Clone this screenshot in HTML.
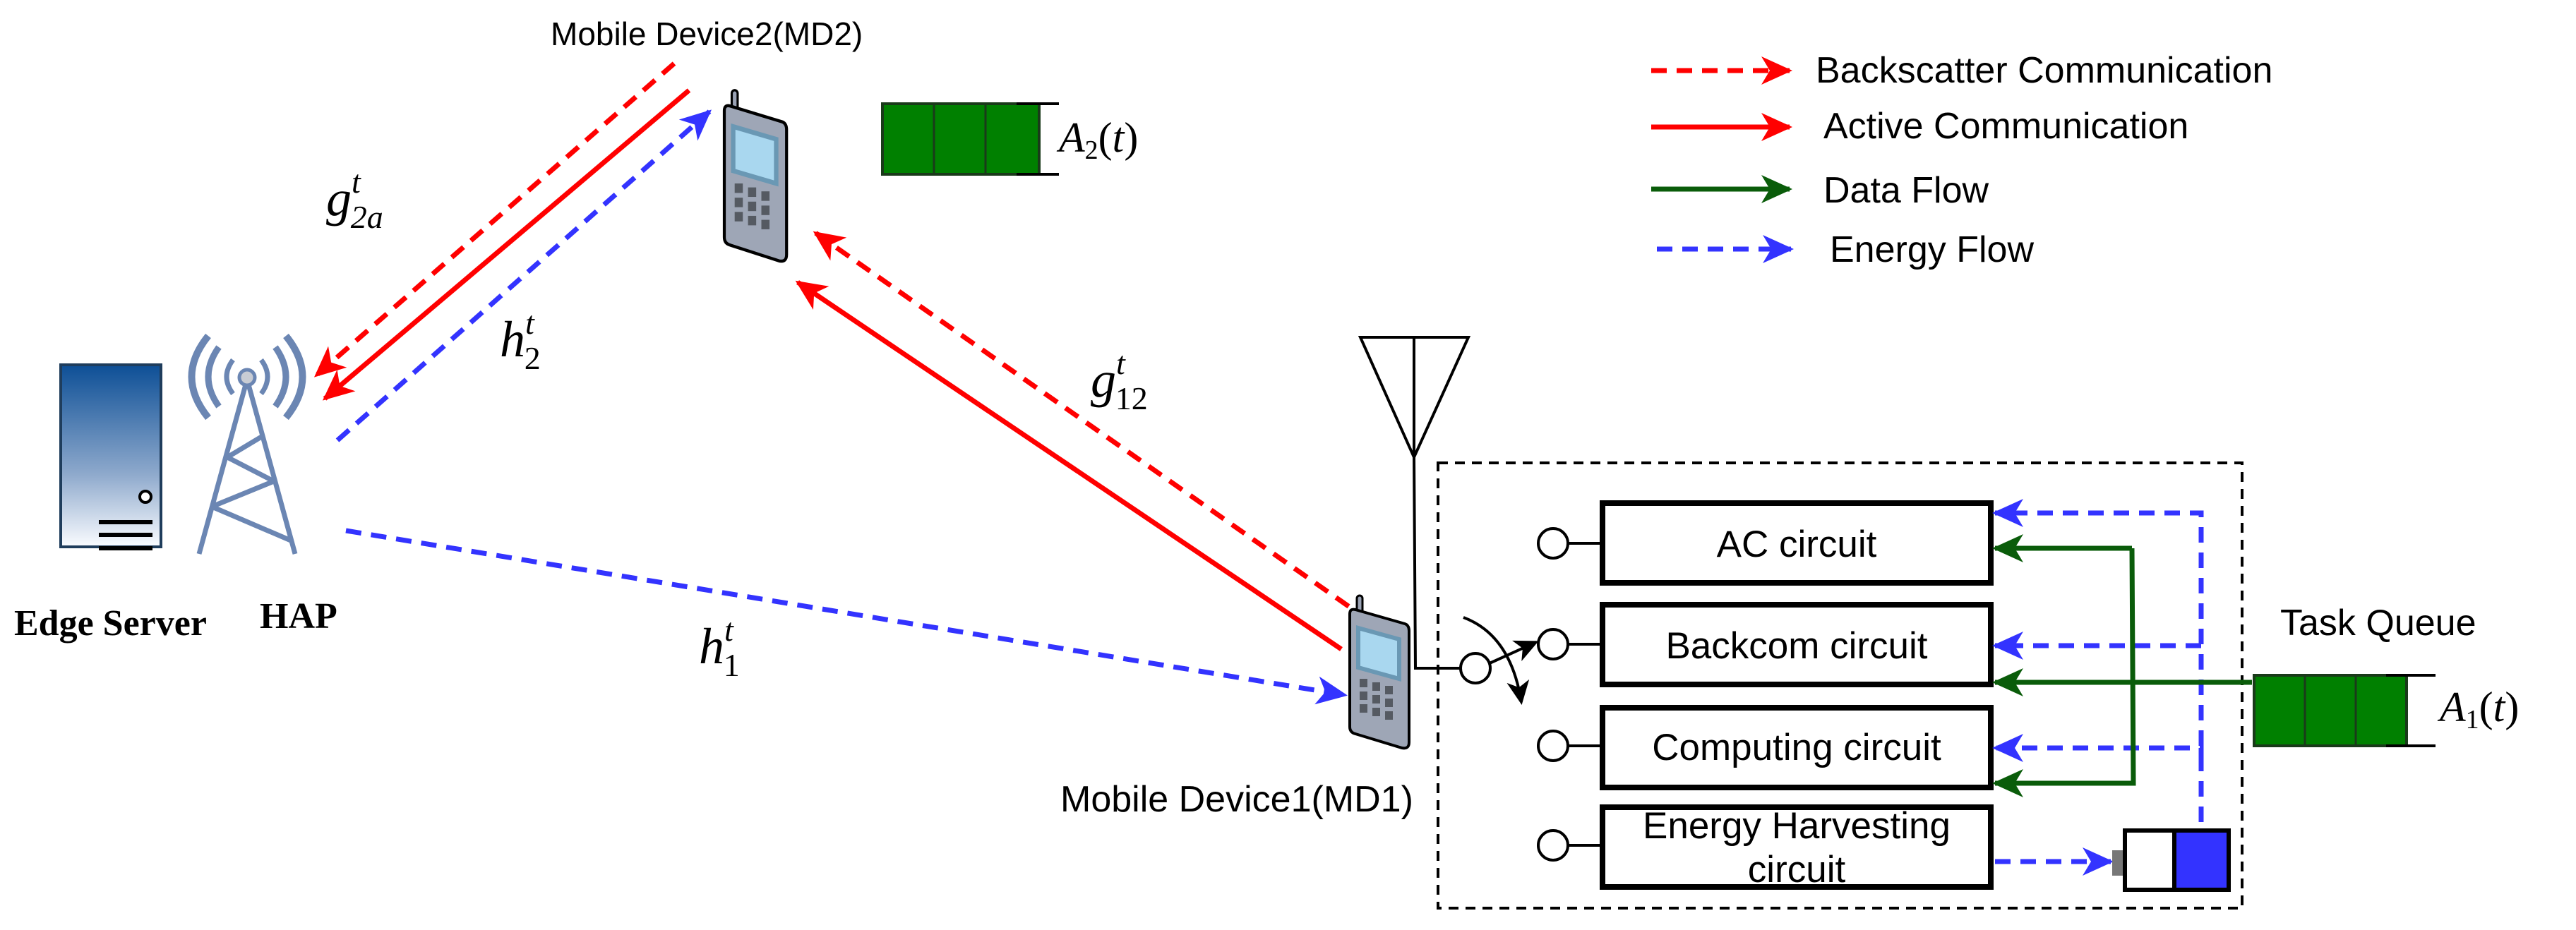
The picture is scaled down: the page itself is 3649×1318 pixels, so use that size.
<!DOCTYPE html>
<html><head><meta charset="utf-8"><style>
html,body{margin:0;padding:0;background:#fff;}
svg{display:block;}
text{font-family:"Liberation Sans",sans-serif;}
text.m{font-family:"Liberation Serif",serif;font-style:italic;}
</style></head><body>
<svg width="3649" height="1318" viewBox="0 0 3649 1318" xmlns="http://www.w3.org/2000/svg">
<defs>
<marker id="ar" markerUnits="userSpaceOnUse" markerWidth="44" markerHeight="44" refX="40" refY="22" orient="auto"><path d="M0,2 L44,22 L0,42 L12,22 z" fill="#f00"/></marker>
<marker id="ab" markerUnits="userSpaceOnUse" markerWidth="44" markerHeight="44" refX="40" refY="22" orient="auto"><path d="M0,2 L44,22 L0,42 L12,22 z" fill="#3333ff"/></marker>
<marker id="ag" markerUnits="userSpaceOnUse" markerWidth="44" markerHeight="44" refX="40" refY="22" orient="auto"><path d="M0,2 L44,22 L0,42 L12,22 z" fill="#0a5c0a"/></marker>
<marker id="ak" markerUnits="userSpaceOnUse" markerWidth="34" markerHeight="34" refX="30" refY="17" orient="auto"><path d="M0,1 L34,17 L0,33 L9,17 z" fill="#000"/></marker>
<linearGradient id="sg" x1="0" y1="0" x2="0" y2="1"><stop offset="0" stop-color="#0d4f96"/><stop offset="0.6" stop-color="#8ea9cc"/><stop offset="1" stop-color="#fafcff"/></linearGradient>
<g id="phone">
<rect x="10" y="-18" width="8" height="30" rx="4" fill="#9aa2b4" stroke="#000" stroke-width="3"/>
<path d="M0,8 Q0,0 8,2 L78,22 Q84,24 84,32 L84,190 Q84,200 74,198 L8,178 Q0,176 0,168 Z" fill="#9ea6b6" stroke="#000" stroke-width="4"/>
<path d="M12,28 L70,44 L70,100 L12,84 Z" fill="#a9d7ef" stroke="#6a98b4" stroke-width="6"/>
<g fill="#555a62"><rect x="14" y="100" width="11" height="12"/><rect x="32" y="105" width="11" height="12"/><rect x="50" y="110" width="11" height="12"/><rect x="14" y="118" width="11" height="12"/><rect x="32" y="123" width="11" height="12"/><rect x="50" y="128" width="11" height="12"/><rect x="14" y="136" width="11" height="12"/><rect x="32" y="141" width="11" height="12"/><rect x="50" y="146" width="11" height="12"/></g>
</g>
</defs>

<g stroke-width="7" fill="none">
<line x1="2339" y1="100" x2="2535" y2="100" stroke="#f00" stroke-dasharray="22 14" marker-end="url(#ar)"/>
<line x1="2339" y1="180" x2="2535" y2="180" stroke="#f00" marker-end="url(#ar)"/>
<line x1="2339" y1="268" x2="2535" y2="268" stroke="#0a5c0a" marker-end="url(#ag)"/>
<line x1="2347" y1="353" x2="2537" y2="353" stroke="#3333ff" stroke-dasharray="22 14" marker-end="url(#ab)"/>
</g>
<g font-size="52" fill="#000">
<text x="2572" y="117">Backscatter Communication</text>
<text x="2583" y="196">Active Communication</text>
<text x="2583" y="287">Data Flow</text>
<text x="2592" y="371">Energy Flow</text>
</g>

<text x="780" y="64" font-size="46">Mobile Device2(MD2)</text>
<use href="#phone" transform="translate(1026,148) scale(1.05,1.12)"/>
<rect x="1250" y="147" width="222" height="100" fill="#008000" stroke="#1a3a1a" stroke-width="4"/>
<line x1="1323" y1="147" x2="1323" y2="247" stroke="#1a3a1a" stroke-width="3"/>
<line x1="1396" y1="147" x2="1396" y2="247" stroke="#1a3a1a" stroke-width="3"/>
<line x1="1440" y1="147" x2="1500" y2="147" stroke="#000" stroke-width="4"/>
<line x1="1440" y1="247" x2="1500" y2="247" stroke="#000" stroke-width="4"/>
<text x="1500" y="215" font-size="60" class="m">A<tspan font-size="38" dy="10" font-style="normal">2</tspan><tspan dy="-10" font-style="normal">(</tspan>t<tspan font-style="normal">)</tspan></text>

<rect x="86" y="517" width="142" height="258" fill="url(#sg)" stroke="#1f3d5c" stroke-width="4"/>
<circle cx="206" cy="704" r="8" fill="#fff" stroke="#000" stroke-width="4"/>
<g stroke="#000" stroke-width="6"><line x1="140" y1="740" x2="216" y2="740"/><line x1="140" y1="758" x2="216" y2="758"/><line x1="140" y1="777" x2="216" y2="777"/></g>
<text x="20" y="900" font-size="52" font-weight="bold" style="font-family:'Liberation Serif',serif">Edge Server</text>
<g transform="translate(0,-60)">
<g stroke="#6b86b3" stroke-width="7" fill="none">
<line x1="348" y1="605" x2="282" y2="845"/><line x1="352" y1="605" x2="418" y2="845"/>
<line x1="372" y1="678" x2="322" y2="708"/><line x1="322" y1="708" x2="388" y2="742"/><line x1="388" y1="742" x2="300" y2="778"/><line x1="300" y1="778" x2="412" y2="826"/>
<path d="M330,570 Q312,594 330,618"/><path d="M370,570 Q388,594 370,618"/>
<path d="M310,552 Q280,594 310,636" stroke-width="9"/><path d="M390,552 Q420,594 390,636" stroke-width="9"/>
<path d="M295,536 Q248,594 295,652" stroke-width="10"/><path d="M405,536 Q452,594 405,652" stroke-width="10"/>
</g>
<circle cx="350" cy="595" r="11" fill="#c8ccd4" stroke="#6b86b3" stroke-width="5"/>
</g>
<text x="368" y="890" font-size="52" font-weight="bold" style="font-family:'Liberation Serif',serif">HAP</text>

<g stroke-width="7" fill="none">
<line x1="955" y1="90" x2="448" y2="532" stroke="#f00" stroke-dasharray="22 14" marker-end="url(#ar)"/>
<line x1="976" y1="128" x2="460" y2="565" stroke="#f00" marker-end="url(#ar)"/>
<line x1="478" y1="624" x2="1005" y2="158" stroke="#3333ff" stroke-dasharray="22 14" marker-end="url(#ab)"/>
<line x1="1940" y1="880" x2="1155" y2="330" stroke="#f00" stroke-dasharray="22 14" marker-end="url(#ar)"/>
<line x1="1900" y1="920" x2="1130" y2="400" stroke="#f00" marker-end="url(#ar)"/>
<line x1="490" y1="752" x2="1905" y2="985" stroke="#3333ff" stroke-dasharray="22 14" marker-end="url(#ab)"/>
</g>
<g font-size="72">
<text class="m" x="462" y="305">g<tspan font-size="46" dy="-32">t</tspan><tspan font-size="46" dx="-14" dy="50">2a</tspan></text>
<text class="m" x="708" y="505">h<tspan font-size="46" dy="-32">t</tspan><tspan font-size="46" font-style="normal" dx="-14" dy="50">2</tspan></text>
<text class="m" x="1545" y="562">g<tspan font-size="46" dy="-32">t</tspan><tspan font-size="46" font-style="normal" dx="-14" dy="50">12</tspan></text>
<text class="m" x="990" y="940">h<tspan font-size="46" dy="-32">t</tspan><tspan font-size="46" font-style="normal" dx="-14" dy="50">1</tspan></text>
</g>

<use href="#phone" x="1912" y="862"/>
<text x="1502" y="1150" font-size="52">Mobile Device1(MD1)</text>
<g stroke="#000" stroke-width="4" fill="none">
<path d="M1927,478 L2080,478 L2003,648 Z"/><line x1="2003" y1="478" x2="2003" y2="648"/>
<polyline points="2003,648 2005,947 2069,947"/>
<line x1="2110" y1="940" x2="2176" y2="910" marker-end="url(#ak)"/>
<path d="M2073,875 Q2140,900 2155,995" marker-end="url(#ak)"/>
</g>
<circle cx="2090" cy="947" r="21" fill="#fff" stroke="#000" stroke-width="4"/>
<rect x="2037" y="656" width="1139" height="631" fill="none" stroke="#000" stroke-width="4" stroke-dasharray="14 10"/>
<g stroke="#000" stroke-width="4" fill="#fff">
<line x1="2221" y1="770" x2="2268" y2="770"/><circle cx="2200" cy="770" r="21"/>
<line x1="2221" y1="913" x2="2268" y2="913"/><circle cx="2200" cy="913" r="21"/>
<line x1="2221" y1="1057" x2="2268" y2="1057"/><circle cx="2200" cy="1057" r="21"/>
<line x1="2221" y1="1198" x2="2268" y2="1198"/><circle cx="2200" cy="1198" r="21"/>
</g>
<g stroke="#000" stroke-width="8" fill="#fff">
<rect x="2270" y="713" width="550" height="113"/>
<rect x="2270" y="857" width="550" height="113"/>
<rect x="2270" y="1003" width="550" height="113"/>
<rect x="2270" y="1144" width="550" height="113"/>
</g>
<g font-size="53" text-anchor="middle">
<text x="2545" y="789">AC circuit</text>
<text x="2545" y="933">Backcom circuit</text>
<text x="2545" y="1077">Computing circuit</text>
<text x="2545" y="1188">Energy Harvesting</text>
<text x="2545" y="1250">circuit</text>
</g>
<g stroke="#3333ff" stroke-width="7" fill="none" stroke-dasharray="22 14">
<polyline points="3118,1165 3118,727 2826,727" marker-end="url(#ab)"/>
<line x1="3118" y1="915" x2="2826" y2="915" marker-end="url(#ab)"/>
<polyline points="3118,1080 3118,1060 2826,1060" marker-end="url(#ab)"/>
<line x1="2826" y1="1221" x2="2990" y2="1221" marker-end="url(#ab)"/>
</g>
<g stroke="#0a5c0a" stroke-width="7" fill="none">
<polyline points="3020,777 2826,777" marker-end="url(#ag)"/>
<polyline points="3020,777 3022,1110 2826,1110" marker-end="url(#ag)"/>
<line x1="3190" y1="967" x2="2826" y2="967" marker-end="url(#ag)"/>
</g>
<rect x="2992" y="1205" width="18" height="36" fill="#777"/>
<rect x="3010" y="1177" width="77" height="84" fill="#fff" stroke="#000" stroke-width="6"/>
<rect x="3080" y="1177" width="77" height="84" fill="#3333ff" stroke="#000" stroke-width="6"/>
<text x="3230" y="900" font-size="52">Task Queue</text>
<rect x="3193" y="957" width="216" height="100" fill="#008000" stroke="#1a3a1a" stroke-width="4"/>
<line x1="3265" y1="957" x2="3265" y2="1057" stroke="#1a3a1a" stroke-width="3"/>
<line x1="3337" y1="957" x2="3337" y2="1057" stroke="#1a3a1a" stroke-width="3"/>
<line x1="3380" y1="957" x2="3450" y2="957" stroke="#000" stroke-width="4"/>
<line x1="3380" y1="1057" x2="3450" y2="1057" stroke="#000" stroke-width="4"/>
<text x="3456" y="1022" font-size="60" class="m">A<tspan font-size="38" dy="10" font-style="normal">1</tspan><tspan dy="-10" font-style="normal">(</tspan>t<tspan font-style="normal">)</tspan></text>
</svg>
</body></html>
